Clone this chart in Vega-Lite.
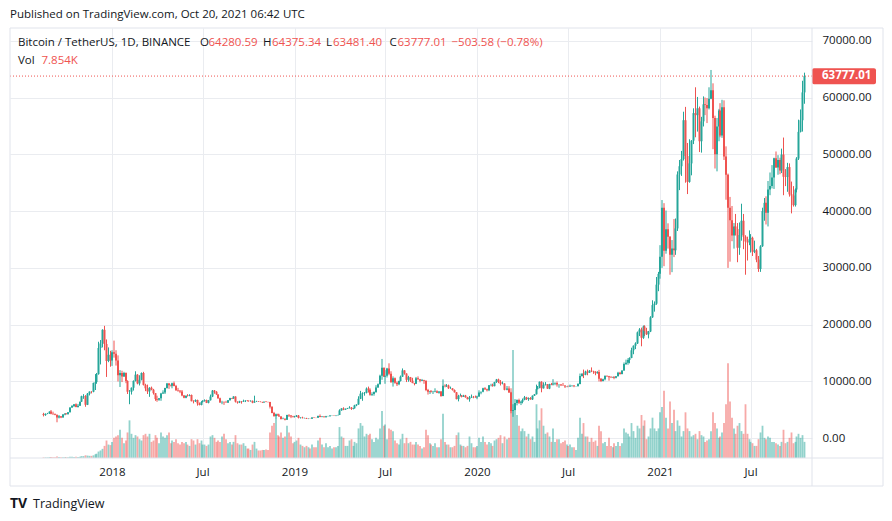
{
"$schema":"https://vega.github.io/schema/vega-lite/v6.json",
"width":802,"height":430,
"autosize":{"type":"none"},
"padding":{"left":10,"top":28,"right":80,"bottom":63},
"background":"#ffffff",
"title":{"text":"Published on TradingView.com, Oct 20, 2021 06:42 UTC","anchor":"start","frame":"group","offset":7,"font":"Open Sans","fontSize":11.5,"fontWeight":"normal","color":"#131722"},
"config":{"view":{"stroke":null},"font":"Open Sans","text":{"font":"Open Sans","fontSize":11.5},"axis":{"labelFont":"Open Sans","labelFontSize":11.5,"labelColor":"#131722","gridColor":"#eaecf0","gridWidth":1,"domain":false,"ticks":false}},
"datasets":{"btc":[
{"d":"2017-08-17","o":4261,"h":4485,"l":3850,"c":4086,"v":2},
{"d":"2017-08-21","o":4086,"h":4370,"l":3950,"c":4330,"v":2},
{"d":"2017-08-25","o":4330,"h":4470,"l":4250,"c":4340,"v":2},
{"d":"2017-08-29","o":4340,"h":4740,"l":4310,"c":4700,"v":3},
{"d":"2017-09-01","o":4700,"h":4980,"l":4220,"c":4300,"v":4},
{"d":"2017-09-05","o":4300,"h":4690,"l":4100,"c":4270,"v":3},
{"d":"2017-09-09","o":4270,"h":4380,"l":4050,"c":4150,"v":3},
{"d":"2017-09-13","o":4150,"h":4170,"l":2817,"c":3650,"v":6},
{"d":"2017-09-17","o":3650,"h":4100,"l":3500,"c":3880,"v":4},
{"d":"2017-09-21","o":3880,"h":3900,"l":3550,"c":3660,"v":3},
{"d":"2017-09-25","o":3660,"h":4280,"l":3650,"c":4180,"v":3},
{"d":"2017-09-29","o":4180,"h":4380,"l":4050,"c":4360,"v":3},
{"d":"2017-10-01","o":4360,"h":4450,"l":4200,"c":4220,"v":3},
{"d":"2017-10-05","o":4220,"h":4620,"l":4200,"c":4600,"v":3},
{"d":"2017-10-09","o":4600,"h":5440,"l":4550,"c":5400,"v":5},
{"d":"2017-10-13","o":5400,"h":5850,"l":5350,"c":5700,"v":5},
{"d":"2017-10-17","o":5700,"h":6000,"l":5500,"c":5980,"v":4},
{"d":"2017-10-21","o":5980,"h":6150,"l":5450,"c":5500,"v":5},
{"d":"2017-10-25","o":5500,"h":6050,"l":5400,"c":5750,"v":4},
{"d":"2017-10-29","o":5750,"h":6470,"l":5700,"c":6450,"v":5},
{"d":"2017-11-01","o":6450,"h":7500,"l":6400,"c":7400,"v":7},
{"d":"2017-11-05","o":7400,"h":7770,"l":6950,"c":7450,"v":7},
{"d":"2017-11-09","o":7450,"h":7600,"l":5550,"c":5900,"v":10},
{"d":"2017-11-13","o":5900,"h":7970,"l":5850,"c":7850,"v":9},
{"d":"2017-11-17","o":7850,"h":8250,"l":7550,"c":8220,"v":8},
{"d":"2017-11-21","o":8220,"h":8300,"l":7900,"c":8200,"v":8},
{"d":"2017-11-25","o":8200,"h":9800,"l":8100,"c":9750,"v":10},
{"d":"2017-11-29","o":9750,"h":11300,"l":8500,"c":9900,"v":14},
{"d":"2017-12-01","o":9900,"h":11500,"l":9600,"c":11300,"v":16},
{"d":"2017-12-05","o":11300,"h":17000,"l":11200,"c":15900,"v":24},
{"d":"2017-12-09","o":15900,"h":17300,"l":13000,"c":16700,"v":28},
{"d":"2017-12-13","o":16700,"h":19200,"l":16000,"c":19100,"v":34},
{"d":"2017-12-17","o":19100,"h":19798,"l":15500,"c":16600,"v":45},
{"d":"2017-12-21","o":16600,"h":17400,"l":10800,"c":13600,"v":65},
{"d":"2017-12-25","o":13600,"h":16000,"l":13400,"c":14700,"v":50},
{"d":"2017-12-29","o":14700,"h":15400,"l":12600,"c":13700,"v":48},
{"d":"2018-01-01","o":13700,"h":15500,"l":12750,"c":15150,"v":60},
{"d":"2018-01-05","o":15150,"h":17200,"l":14200,"c":14900,"v":75},
{"d":"2018-01-09","o":14900,"h":15500,"l":12800,"c":13700,"v":80},
{"d":"2018-01-13","o":13700,"h":14600,"l":10000,"c":11100,"v":85},
{"d":"2018-01-17","o":11100,"h":12000,"l":9035,"c":11500,"v":105},
{"d":"2018-01-21","o":11500,"h":11900,"l":9900,"c":10900,"v":75},
{"d":"2018-01-25","o":10900,"h":11700,"l":10800,"c":11500,"v":55},
{"d":"2018-01-29","o":11500,"h":11600,"l":9700,"c":10100,"v":65},
{"d":"2018-02-01","o":10100,"h":10200,"l":7800,"c":8200,"v":95},
{"d":"2018-02-05","o":8200,"h":8500,"l":6000,"c":8200,"v":140},
{"d":"2018-02-09","o":8200,"h":8950,"l":7700,"c":8900,"v":90},
{"d":"2018-02-13","o":8900,"h":10200,"l":8400,"c":10100,"v":75},
{"d":"2018-02-17","o":10100,"h":11800,"l":10000,"c":11200,"v":85},
{"d":"2018-02-21","o":11200,"h":11300,"l":9500,"c":9650,"v":80},
{"d":"2018-02-25","o":9650,"h":11100,"l":9300,"c":10300,"v":70},
{"d":"2018-03-01","o":10300,"h":11600,"l":10200,"c":11500,"v":65},
{"d":"2018-03-05","o":11500,"h":11700,"l":9300,"c":9400,"v":85},
{"d":"2018-03-09","o":9400,"h":9600,"l":8300,"c":8800,"v":90},
{"d":"2018-03-13","o":8800,"h":9450,"l":7800,"c":8250,"v":80},
{"d":"2018-03-17","o":8250,"h":9000,"l":7300,"c":8900,"v":90},
{"d":"2018-03-21","o":8900,"h":9100,"l":8450,"c":8550,"v":60},
{"d":"2018-03-25","o":8550,"h":8700,"l":7700,"c":7950,"v":65},
{"d":"2018-03-29","o":7950,"h":7970,"l":6600,"c":6920,"v":85},
{"d":"2018-04-01","o":6920,"h":7500,"l":6430,"c":6800,"v":75},
{"d":"2018-04-05","o":6800,"h":7100,"l":6600,"c":7030,"v":55},
{"d":"2018-04-09","o":7030,"h":8000,"l":6600,"c":7900,"v":95},
{"d":"2018-04-13","o":7900,"h":8450,"l":7800,"c":8050,"v":80},
{"d":"2018-04-17","o":8050,"h":8900,"l":7800,"c":8850,"v":75},
{"d":"2018-04-21","o":8850,"h":9750,"l":8750,"c":9650,"v":85},
{"d":"2018-04-25","o":9650,"h":9750,"l":8700,"c":9350,"v":95},
{"d":"2018-04-29","o":9350,"h":9500,"l":9100,"c":9250,"v":55},
{"d":"2018-05-01","o":9250,"h":9800,"l":8800,"c":9700,"v":65},
{"d":"2018-05-05","o":9700,"h":9990,"l":9150,"c":9200,"v":60},
{"d":"2018-05-09","o":9200,"h":9400,"l":8350,"c":8450,"v":70},
{"d":"2018-05-13","o":8450,"h":8880,"l":8200,"c":8350,"v":55},
{"d":"2018-05-17","o":8350,"h":8500,"l":7950,"c":8250,"v":50},
{"d":"2018-05-21","o":8250,"h":8500,"l":7400,"c":7520,"v":60},
{"d":"2018-05-25","o":7520,"h":7630,"l":7050,"c":7120,"v":55},
{"d":"2018-05-29","o":7120,"h":7530,"l":7050,"c":7500,"v":60},
{"d":"2018-06-01","o":7500,"h":7770,"l":7350,"c":7480,"v":50},
{"d":"2018-06-05","o":7480,"h":7750,"l":7400,"c":7630,"v":45},
{"d":"2018-06-09","o":7630,"h":7700,"l":6500,"c":6530,"v":70},
{"d":"2018-06-13","o":6530,"h":6700,"l":6150,"c":6500,"v":65},
{"d":"2018-06-17","o":6500,"h":6850,"l":6400,"c":6750,"v":50},
{"d":"2018-06-21","o":6750,"h":6800,"l":5750,"c":6150,"v":70},
{"d":"2018-06-25","o":6150,"h":6300,"l":5800,"c":5880,"v":55},
{"d":"2018-06-29","o":5880,"h":6530,"l":5800,"c":6400,"v":65},
{"d":"2018-07-01","o":6400,"h":6700,"l":6300,"c":6600,"v":50},
{"d":"2018-07-05","o":6600,"h":6850,"l":6450,"c":6750,"v":50},
{"d":"2018-07-09","o":6750,"h":6800,"l":6200,"c":6250,"v":45},
{"d":"2018-07-13","o":6250,"h":6750,"l":6150,"c":6700,"v":50},
{"d":"2018-07-17","o":6700,"h":7700,"l":6650,"c":7350,"v":80},
{"d":"2018-07-21","o":7350,"h":8500,"l":7250,"c":8400,"v":85},
{"d":"2018-07-25","o":8400,"h":8500,"l":7850,"c":8200,"v":75},
{"d":"2018-07-29","o":8200,"h":8300,"l":7650,"c":7730,"v":60},
{"d":"2018-08-01","o":7730,"h":7760,"l":6950,"c":7030,"v":65},
{"d":"2018-08-05","o":7030,"h":7160,"l":6250,"c":6280,"v":60},
{"d":"2018-08-09","o":6280,"h":6600,"l":6000,"c":6330,"v":80},
{"d":"2018-08-13","o":6330,"h":6500,"l":5880,"c":6300,"v":90},
{"d":"2018-08-17","o":6300,"h":6600,"l":6250,"c":6270,"v":70},
{"d":"2018-08-21","o":6270,"h":6720,"l":6260,"c":6700,"v":55},
{"d":"2018-08-25","o":6700,"h":7130,"l":6650,"c":7090,"v":60},
{"d":"2018-08-29","o":7090,"h":7100,"l":6900,"c":7000,"v":50},
{"d":"2018-09-01","o":7000,"h":7410,"l":6950,"c":7350,"v":60},
{"d":"2018-09-05","o":7350,"h":7400,"l":6300,"c":6450,"v":85},
{"d":"2018-09-09","o":6450,"h":6500,"l":6100,"c":6300,"v":55},
{"d":"2018-09-13","o":6300,"h":6600,"l":6200,"c":6500,"v":50},
{"d":"2018-09-17","o":6500,"h":6550,"l":6100,"c":6450,"v":50},
{"d":"2018-09-21","o":6450,"h":6800,"l":6420,"c":6580,"v":55},
{"d":"2018-09-25","o":6580,"h":6700,"l":6380,"c":6650,"v":45},
{"d":"2018-09-29","o":6650,"h":6700,"l":6500,"c":6600,"v":35},
{"d":"2018-10-01","o":6600,"h":6650,"l":6450,"c":6550,"v":35},
{"d":"2018-10-05","o":6550,"h":6680,"l":6450,"c":6600,"v":30},
{"d":"2018-10-09","o":6600,"h":6650,"l":6170,"c":6280,"v":50},
{"d":"2018-10-13","o":6280,"h":7500,"l":6250,"c":6450,"v":60},
{"d":"2018-10-17","o":6450,"h":6600,"l":6400,"c":6500,"v":35},
{"d":"2018-10-21","o":6500,"h":6550,"l":6420,"c":6450,"v":28},
{"d":"2018-10-25","o":6450,"h":6480,"l":6350,"c":6400,"v":28},
{"d":"2018-10-29","o":6400,"h":6420,"l":6250,"c":6300,"v":30},
{"d":"2018-11-01","o":6300,"h":6480,"l":6280,"c":6450,"v":30},
{"d":"2018-11-05","o":6450,"h":6550,"l":6350,"c":6400,"v":32},
{"d":"2018-11-09","o":6400,"h":6450,"l":6300,"c":6380,"v":30},
{"d":"2018-11-13","o":6380,"h":6420,"l":5250,"c":5550,"v":95},
{"d":"2018-11-17","o":5550,"h":5620,"l":4400,"c":4450,"v":120},
{"d":"2018-11-21","o":4450,"h":4650,"l":3850,"c":3900,"v":130},
{"d":"2018-11-25","o":3900,"h":4350,"l":3500,"c":4250,"v":150},
{"d":"2018-11-29","o":4250,"h":4350,"l":3950,"c":4000,"v":85},
{"d":"2018-12-01","o":4000,"h":4300,"l":3800,"c":3850,"v":80},
{"d":"2018-12-05","o":3850,"h":3900,"l":3300,"c":3400,"v":95},
{"d":"2018-12-09","o":3400,"h":3650,"l":3350,"c":3450,"v":75},
{"d":"2018-12-13","o":3450,"h":3500,"l":3150,"c":3250,"v":80},
{"d":"2018-12-17","o":3250,"h":4150,"l":3230,"c":4100,"v":120},
{"d":"2018-12-21","o":4100,"h":4250,"l":3750,"c":4000,"v":95},
{"d":"2018-12-25","o":4000,"h":4100,"l":3550,"c":3850,"v":80},
{"d":"2018-12-29","o":3850,"h":3960,"l":3650,"c":3750,"v":55},
{"d":"2019-01-01","o":3750,"h":3950,"l":3650,"c":3800,"v":60},
{"d":"2019-01-05","o":3800,"h":4100,"l":3750,"c":4000,"v":65},
{"d":"2019-01-09","o":4000,"h":4100,"l":3500,"c":3600,"v":75},
{"d":"2019-01-13","o":3600,"h":3700,"l":3480,"c":3650,"v":50},
{"d":"2019-01-17","o":3650,"h":3800,"l":3500,"c":3550,"v":45},
{"d":"2019-01-21","o":3550,"h":3620,"l":3500,"c":3580,"v":40},
{"d":"2019-01-25","o":3580,"h":3600,"l":3400,"c":3450,"v":45},
{"d":"2019-01-29","o":3450,"h":3500,"l":3380,"c":3450,"v":40},
{"d":"2019-02-01","o":3450,"h":3500,"l":3400,"c":3430,"v":35},
{"d":"2019-02-05","o":3430,"h":3700,"l":3400,"c":3650,"v":50},
{"d":"2019-02-09","o":3650,"h":3700,"l":3560,"c":3630,"v":40},
{"d":"2019-02-13","o":3630,"h":3650,"l":3550,"c":3610,"v":40},
{"d":"2019-02-17","o":3610,"h":4000,"l":3600,"c":3930,"v":65},
{"d":"2019-02-21","o":3930,"h":4200,"l":3700,"c":3730,"v":75},
{"d":"2019-02-25","o":3730,"h":3880,"l":3700,"c":3820,"v":50},
{"d":"2019-03-01","o":3820,"h":3880,"l":3700,"c":3720,"v":40},
{"d":"2019-03-05","o":3720,"h":3950,"l":3680,"c":3880,"v":55},
{"d":"2019-03-09","o":3880,"h":3950,"l":3830,"c":3880,"v":40},
{"d":"2019-03-13","o":3880,"h":4050,"l":3850,"c":4020,"v":45},
{"d":"2019-03-17","o":4020,"h":4050,"l":3950,"c":4030,"v":35},
{"d":"2019-03-21","o":4030,"h":4100,"l":3950,"c":4000,"v":40},
{"d":"2019-03-25","o":4000,"h":4050,"l":3900,"c":4040,"v":40},
{"d":"2019-03-29","o":4040,"h":4140,"l":4030,"c":4100,"v":45},
{"d":"2019-04-01","o":4100,"h":5100,"l":4090,"c":4900,"v":115},
{"d":"2019-04-05","o":4900,"h":5300,"l":4850,"c":5250,"v":80},
{"d":"2019-04-09","o":5250,"h":5460,"l":4950,"c":5050,"v":75},
{"d":"2019-04-13","o":5050,"h":5250,"l":5000,"c":5200,"v":45},
{"d":"2019-04-17","o":5200,"h":5350,"l":5150,"c":5300,"v":45},
{"d":"2019-04-21","o":5300,"h":5650,"l":5250,"c":5400,"v":65},
{"d":"2019-04-25","o":5400,"h":5500,"l":5000,"c":5150,"v":70},
{"d":"2019-04-29","o":5150,"h":5300,"l":5100,"c":5270,"v":45},
{"d":"2019-05-01","o":5270,"h":5900,"l":5250,"c":5800,"v":60},
{"d":"2019-05-05","o":5800,"h":6000,"l":5650,"c":5950,"v":55},
{"d":"2019-05-09","o":5950,"h":7400,"l":5900,"c":6950,"v":110},
{"d":"2019-05-13","o":6950,"h":8350,"l":6900,"c":7850,"v":130},
{"d":"2019-05-17","o":7850,"h":8100,"l":6600,"c":7950,"v":120},
{"d":"2019-05-21","o":7950,"h":8150,"l":7500,"c":8000,"v":80},
{"d":"2019-05-25","o":8000,"h":8950,"l":7900,"c":8750,"v":90},
{"d":"2019-05-29","o":8750,"h":9100,"l":8050,"c":8550,"v":85},
{"d":"2019-06-01","o":8550,"h":8800,"l":7500,"c":7650,"v":90},
{"d":"2019-06-05","o":7650,"h":8100,"l":7450,"c":7800,"v":70},
{"d":"2019-06-09","o":7800,"h":8250,"l":7500,"c":8150,"v":60},
{"d":"2019-06-13","o":8150,"h":9350,"l":8000,"c":8950,"v":75},
{"d":"2019-06-17","o":8950,"h":9650,"l":8900,"c":9520,"v":70},
{"d":"2019-06-21","o":9520,"h":11200,"l":9500,"c":11000,"v":110},
{"d":"2019-06-25","o":11000,"h":13970,"l":10300,"c":12400,"v":175},
{"d":"2019-06-29","o":12400,"h":12450,"l":10800,"c":10850,"v":120},
{"d":"2019-07-01","o":10850,"h":12000,"l":9600,"c":11000,"v":125},
{"d":"2019-07-05","o":11000,"h":12400,"l":10700,"c":12300,"v":70},
{"d":"2019-07-09","o":12300,"h":13200,"l":11100,"c":11350,"v":110},
{"d":"2019-07-13","o":11350,"h":11800,"l":9800,"c":9850,"v":105},
{"d":"2019-07-17","o":9850,"h":10900,"l":9100,"c":10550,"v":100},
{"d":"2019-07-21","o":10550,"h":10700,"l":9600,"c":9800,"v":65},
{"d":"2019-07-25","o":9800,"h":10000,"l":9200,"c":9500,"v":55},
{"d":"2019-07-29","o":9500,"h":10150,"l":9350,"c":10080,"v":50},
{"d":"2019-08-01","o":10080,"h":11050,"l":10000,"c":10850,"v":70},
{"d":"2019-08-05","o":10850,"h":12300,"l":10800,"c":11950,"v":90},
{"d":"2019-08-09","o":11950,"h":12000,"l":11200,"c":11400,"v":55},
{"d":"2019-08-13","o":11400,"h":11450,"l":9900,"c":10300,"v":75},
{"d":"2019-08-17","o":10300,"h":11000,"l":9950,"c":10750,"v":55},
{"d":"2019-08-21","o":10750,"h":10800,"l":9900,"c":10150,"v":60},
{"d":"2019-08-25","o":10150,"h":10650,"l":9700,"c":9720,"v":50},
{"d":"2019-08-29","o":9720,"h":9750,"l":9320,"c":9600,"v":50},
{"d":"2019-09-01","o":9600,"h":10800,"l":9550,"c":10580,"v":60},
{"d":"2019-09-05","o":10580,"h":10900,"l":10300,"c":10400,"v":50},
{"d":"2019-09-09","o":10400,"h":10450,"l":9850,"c":10150,"v":45},
{"d":"2019-09-13","o":10150,"h":10450,"l":10100,"c":10250,"v":35},
{"d":"2019-09-17","o":10250,"h":10300,"l":9600,"c":10150,"v":40},
{"d":"2019-09-21","o":10150,"h":10180,"l":8300,"c":8500,"v":105},
{"d":"2019-09-25","o":8500,"h":8700,"l":7700,"c":8200,"v":85},
{"d":"2019-09-29","o":8200,"h":8350,"l":7800,"c":8300,"v":55},
{"d":"2019-10-01","o":8300,"h":8500,"l":8050,"c":8150,"v":50},
{"d":"2019-10-05","o":8150,"h":8350,"l":7800,"c":8200,"v":45},
{"d":"2019-10-09","o":8200,"h":8800,"l":8100,"c":8300,"v":55},
{"d":"2019-10-13","o":8300,"h":8450,"l":7950,"c":8000,"v":40},
{"d":"2019-10-17","o":8000,"h":8300,"l":7850,"c":8230,"v":40},
{"d":"2019-10-21","o":8230,"h":8330,"l":7300,"c":7450,"v":70},
{"d":"2019-10-25","o":7450,"h":10370,"l":7400,"c":9250,"v":165},
{"d":"2019-10-29","o":9250,"h":9500,"l":8970,"c":9150,"v":60},
{"d":"2019-11-01","o":9150,"h":9550,"l":9050,"c":9300,"v":50},
{"d":"2019-11-05","o":9300,"h":9450,"l":8700,"c":8800,"v":50},
{"d":"2019-11-09","o":8800,"h":9100,"l":8700,"c":8800,"v":40},
{"d":"2019-11-13","o":8800,"h":8830,"l":8400,"c":8500,"v":40},
{"d":"2019-11-17","o":8500,"h":8600,"l":8050,"c":8100,"v":45},
{"d":"2019-11-21","o":8100,"h":8150,"l":6850,"c":6900,"v":85},
{"d":"2019-11-25","o":6900,"h":7650,"l":6500,"c":7450,"v":95},
{"d":"2019-11-29","o":7450,"h":7870,"l":7400,"c":7550,"v":50},
{"d":"2019-12-01","o":7550,"h":7600,"l":7200,"c":7300,"v":45},
{"d":"2019-12-05","o":7300,"h":7650,"l":7270,"c":7520,"v":45},
{"d":"2019-12-09","o":7520,"h":7640,"l":7150,"c":7220,"v":40},
{"d":"2019-12-13","o":7220,"h":7300,"l":6850,"c":6880,"v":45},
{"d":"2019-12-17","o":6880,"h":7450,"l":6450,"c":7150,"v":80},
{"d":"2019-12-21","o":7150,"h":7700,"l":7100,"c":7320,"v":55},
{"d":"2019-12-25","o":7320,"h":7450,"l":7050,"c":7300,"v":40},
{"d":"2019-12-29","o":7300,"h":7520,"l":7150,"c":7200,"v":40},
{"d":"2020-01-01","o":7200,"h":7500,"l":6880,"c":7350,"v":45},
{"d":"2020-01-05","o":7350,"h":8450,"l":7300,"c":8050,"v":75},
{"d":"2020-01-09","o":8050,"h":8200,"l":7750,"c":8180,"v":60},
{"d":"2020-01-13","o":8180,"h":8900,"l":8100,"c":8800,"v":80},
{"d":"2020-01-17","o":8800,"h":9000,"l":8500,"c":8650,"v":60},
{"d":"2020-01-21","o":8650,"h":8750,"l":8250,"c":8450,"v":50},
{"d":"2020-01-25","o":8450,"h":9380,"l":8300,"c":9350,"v":60},
{"d":"2020-01-29","o":9350,"h":9600,"l":9150,"c":9350,"v":55},
{"d":"2020-02-01","o":9350,"h":9620,"l":9100,"c":9180,"v":45},
{"d":"2020-02-05","o":9180,"h":9950,"l":9150,"c":9900,"v":65},
{"d":"2020-02-09","o":9900,"h":10450,"l":9750,"c":10350,"v":70},
{"d":"2020-02-13","o":10350,"h":10500,"l":9700,"c":9900,"v":75},
{"d":"2020-02-17","o":9900,"h":10250,"l":9300,"c":9600,"v":85},
{"d":"2020-02-21","o":9600,"h":10000,"l":9500,"c":9650,"v":55},
{"d":"2020-02-25","o":9650,"h":9700,"l":8450,"c":8530,"v":80},
{"d":"2020-03-01","o":8530,"h":9200,"l":8450,"c":8770,"v":70},
{"d":"2020-03-05","o":8770,"h":9170,"l":8000,"c":8050,"v":75},
{"d":"2020-03-09","o":8050,"h":8180,"l":4400,"c":4800,"v":260},
{"d":"2020-03-13","o":4800,"h":6000,"l":3782,"c":5000,"v":402},
{"d":"2020-03-17","o":5000,"h":6900,"l":4950,"c":6200,"v":200},
{"d":"2020-03-21","o":6200,"h":6850,"l":5800,"c":6750,"v":160},
{"d":"2020-03-25","o":6750,"h":6980,"l":6050,"c":6250,"v":120},
{"d":"2020-03-29","o":6250,"h":6600,"l":5850,"c":6420,"v":100},
{"d":"2020-04-01","o":6420,"h":7000,"l":6150,"c":6750,"v":110},
{"d":"2020-04-05","o":6750,"h":7450,"l":6700,"c":7200,"v":100},
{"d":"2020-04-09","o":7200,"h":7300,"l":6750,"c":6900,"v":80},
{"d":"2020-04-13","o":6900,"h":7200,"l":6600,"c":7100,"v":90},
{"d":"2020-04-17","o":7100,"h":7250,"l":6800,"c":6850,"v":70},
{"d":"2020-04-21","o":6850,"h":7550,"l":6750,"c":7500,"v":80},
{"d":"2020-04-25","o":7500,"h":7800,"l":7450,"c":7750,"v":60},
{"d":"2020-04-29","o":7750,"h":9450,"l":7700,"c":8650,"v":200},
{"d":"2020-05-01","o":8650,"h":9200,"l":8600,"c":8900,"v":110},
{"d":"2020-05-05","o":8900,"h":10000,"l":8800,"c":9950,"v":140},
{"d":"2020-05-09","o":9950,"h":10050,"l":8100,"c":8800,"v":185},
{"d":"2020-05-13","o":8800,"h":9850,"l":8750,"c":9400,"v":120},
{"d":"2020-05-17","o":9400,"h":9900,"l":9300,"c":9500,"v":90},
{"d":"2020-05-21","o":9500,"h":9550,"l":8700,"c":8750,"v":95},
{"d":"2020-05-25","o":8750,"h":9600,"l":8650,"c":9550,"v":80},
{"d":"2020-05-29","o":9550,"h":9750,"l":9350,"c":9450,"v":60},
{"d":"2020-06-01","o":9450,"h":10400,"l":9300,"c":9650,"v":110},
{"d":"2020-06-05","o":9650,"h":9850,"l":9350,"c":9750,"v":60},
{"d":"2020-06-09","o":9750,"h":10000,"l":9100,"c":9450,"v":70},
{"d":"2020-06-13","o":9450,"h":9550,"l":8900,"c":9450,"v":70},
{"d":"2020-06-17","o":9450,"h":9550,"l":9200,"c":9350,"v":55},
{"d":"2020-06-21","o":9350,"h":9750,"l":9250,"c":9300,"v":60},
{"d":"2020-06-25","o":9300,"h":9320,"l":8850,"c":9100,"v":65},
{"d":"2020-06-29","o":9100,"h":9200,"l":9000,"c":9140,"v":50},
{"d":"2020-07-01","o":9140,"h":9300,"l":9000,"c":9100,"v":45},
{"d":"2020-07-05","o":9100,"h":9450,"l":9050,"c":9250,"v":50},
{"d":"2020-07-09","o":9250,"h":9330,"l":9100,"c":9300,"v":40},
{"d":"2020-07-13","o":9300,"h":9350,"l":9000,"c":9150,"v":40},
{"d":"2020-07-17","o":9150,"h":9200,"l":9100,"c":9170,"v":30},
{"d":"2020-07-21","o":9170,"h":9700,"l":9150,"c":9550,"v":75},
{"d":"2020-07-25","o":9550,"h":11400,"l":9500,"c":10950,"v":150},
{"d":"2020-07-29","o":10950,"h":11450,"l":10850,"c":11350,"v":90},
{"d":"2020-08-01","o":11350,"h":12100,"l":10600,"c":11200,"v":130},
{"d":"2020-08-05","o":11200,"h":11900,"l":11100,"c":11750,"v":80},
{"d":"2020-08-09","o":11750,"h":12100,"l":11100,"c":11550,"v":80},
{"d":"2020-08-13","o":11550,"h":12000,"l":11500,"c":11900,"v":60},
{"d":"2020-08-17","o":11900,"h":12480,"l":11650,"c":11850,"v":75},
{"d":"2020-08-21","o":11850,"h":11900,"l":11350,"c":11750,"v":60},
{"d":"2020-08-25","o":11750,"h":11800,"l":11100,"c":11450,"v":65},
{"d":"2020-08-29","o":11450,"h":11800,"l":11400,"c":11650,"v":45},
{"d":"2020-09-01","o":11650,"h":12050,"l":10000,"c":10500,"v":120},
{"d":"2020-09-05","o":10500,"h":10600,"l":9900,"c":10100,"v":100},
{"d":"2020-09-09","o":10100,"h":10500,"l":10000,"c":10400,"v":55},
{"d":"2020-09-13","o":10400,"h":11100,"l":10200,"c":10950,"v":60},
{"d":"2020-09-17","o":10950,"h":11100,"l":10800,"c":10920,"v":45},
{"d":"2020-09-21","o":10920,"h":10990,"l":10150,"c":10750,"v":75},
{"d":"2020-09-25","o":10750,"h":10950,"l":10600,"c":10700,"v":45},
{"d":"2020-09-29","o":10700,"h":10850,"l":10650,"c":10780,"v":40},
{"d":"2020-10-01","o":10780,"h":10950,"l":10400,"c":10680,"v":55},
{"d":"2020-10-05","o":10680,"h":10950,"l":10550,"c":10920,"v":45},
{"d":"2020-10-09","o":10920,"h":11700,"l":10900,"c":11550,"v":60},
{"d":"2020-10-13","o":11550,"h":11700,"l":11200,"c":11320,"v":45},
{"d":"2020-10-17","o":11320,"h":11950,"l":11250,"c":11920,"v":55},
{"d":"2020-10-21","o":11920,"h":13350,"l":11900,"c":13100,"v":110},
{"d":"2020-10-25","o":13100,"h":13850,"l":12900,"c":13300,"v":95},
{"d":"2020-10-29","o":13300,"h":14100,"l":12950,"c":13800,"v":90},
{"d":"2020-11-01","o":13800,"h":14250,"l":13200,"c":14150,"v":80},
{"d":"2020-11-05","o":14150,"h":15950,"l":14100,"c":15500,"v":130},
{"d":"2020-11-09","o":15500,"h":16350,"l":14800,"c":16300,"v":100},
{"d":"2020-11-13","o":16300,"h":16900,"l":15700,"c":16700,"v":75},
{"d":"2020-11-17","o":16700,"h":18800,"l":16600,"c":18650,"v":120},
{"d":"2020-11-21","o":18650,"h":19400,"l":18000,"c":19150,"v":110},
{"d":"2020-11-25","o":19150,"h":19480,"l":16200,"c":17700,"v":160},
{"d":"2020-11-29","o":17700,"h":19860,"l":17500,"c":19700,"v":120},
{"d":"2020-12-01","o":19700,"h":19900,"l":18000,"c":18900,"v":140},
{"d":"2020-12-05","o":18900,"h":19450,"l":18200,"c":18300,"v":70},
{"d":"2020-12-09","o":18300,"h":18900,"l":17600,"c":18800,"v":80},
{"d":"2020-12-13","o":18800,"h":21500,"l":18700,"c":21300,"v":110},
{"d":"2020-12-17","o":21300,"h":24300,"l":21200,"c":23450,"v":150},
{"d":"2020-12-21","o":23450,"h":24100,"l":22300,"c":23700,"v":110},
{"d":"2020-12-25","o":23700,"h":28400,"l":23500,"c":27050,"v":100},
{"d":"2020-12-29","o":27050,"h":29300,"l":25900,"c":28950,"v":110},
{"d":"2021-01-01","o":28950,"h":34000,"l":28100,"c":31950,"v":170},
{"d":"2021-01-05","o":31950,"h":41950,"l":30000,"c":40600,"v":190},
{"d":"2021-01-09","o":40600,"h":41400,"l":30300,"c":33000,"v":250},
{"d":"2021-01-13","o":33000,"h":40100,"l":32500,"c":36800,"v":150},
{"d":"2021-01-17","o":36800,"h":37850,"l":33400,"c":35500,"v":110},
{"d":"2021-01-21","o":35500,"h":35600,"l":28800,"c":32300,"v":210},
{"d":"2021-01-25","o":32300,"h":34900,"l":29250,"c":33400,"v":130},
{"d":"2021-01-29","o":33400,"h":38600,"l":31900,"c":33100,"v":180},
{"d":"2021-02-01","o":33100,"h":38700,"l":32300,"c":36950,"v":100},
{"d":"2021-02-05","o":36950,"h":47000,"l":36500,"c":46450,"v":140},
{"d":"2021-02-09","o":46450,"h":49000,"l":43700,"c":47900,"v":120},
{"d":"2021-02-13","o":47900,"h":50600,"l":46200,"c":49150,"v":80},
{"d":"2021-02-17","o":49150,"h":57500,"l":48900,"c":56000,"v":100},
{"d":"2021-02-21","o":56000,"h":58350,"l":45000,"c":49700,"v":170},
{"d":"2021-02-25","o":49700,"h":52000,"l":43000,"c":45150,"v":110},
{"d":"2021-03-01","o":45150,"h":52650,"l":45000,"c":48400,"v":100},
{"d":"2021-03-05","o":48400,"h":52500,"l":46300,"c":52400,"v":80},
{"d":"2021-03-09","o":52400,"h":58100,"l":51800,"c":57250,"v":85},
{"d":"2021-03-13","o":57250,"h":61800,"l":53000,"c":56900,"v":90},
{"d":"2021-03-17","o":56900,"h":60100,"l":54000,"c":58100,"v":70},
{"d":"2021-03-21","o":58100,"h":58400,"l":50400,"c":52300,"v":100},
{"d":"2021-03-25","o":52300,"h":56600,"l":50300,"c":55800,"v":85},
{"d":"2021-03-29","o":55800,"h":60200,"l":54900,"c":58800,"v":80},
{"d":"2021-04-01","o":58800,"h":60000,"l":56900,"c":58700,"v":60},
{"d":"2021-04-05","o":58700,"h":59900,"l":55500,"c":58100,"v":65},
{"d":"2021-04-09","o":58100,"h":61800,"l":57900,"c":59800,"v":70},
{"d":"2021-04-13","o":59800,"h":64850,"l":59700,"c":61300,"v":100},
{"d":"2021-04-17","o":61300,"h":62500,"l":50900,"c":56400,"v":170},
{"d":"2021-04-21","o":56400,"h":56800,"l":47500,"c":50000,"v":130},
{"d":"2021-04-25","o":50000,"h":56400,"l":47000,"c":54900,"v":110},
{"d":"2021-04-29","o":54900,"h":58000,"l":52300,"c":57700,"v":75},
{"d":"2021-05-01","o":57700,"h":59000,"l":53000,"c":53300,"v":80},
{"d":"2021-05-05","o":53300,"h":59600,"l":52900,"c":58300,"v":95},
{"d":"2021-05-09","o":58300,"h":59500,"l":49000,"c":49600,"v":130},
{"d":"2021-05-13","o":49600,"h":51400,"l":42000,"c":46400,"v":200},
{"d":"2021-05-17","o":46400,"h":46600,"l":30000,"c":40600,"v":353},
{"d":"2021-05-21","o":40600,"h":42500,"l":31100,"c":38400,"v":210},
{"d":"2021-05-25","o":38400,"h":40900,"l":34700,"c":35700,"v":150},
{"d":"2021-05-29","o":35700,"h":37900,"l":33400,"c":37300,"v":110},
{"d":"2021-06-01","o":37300,"h":39500,"l":35700,"c":36850,"v":90},
{"d":"2021-06-05","o":36850,"h":37900,"l":31000,"c":33550,"v":120},
{"d":"2021-06-09","o":33550,"h":38000,"l":32300,"c":35800,"v":130},
{"d":"2021-06-13","o":35800,"h":41300,"l":34800,"c":38300,"v":100},
{"d":"2021-06-17","o":38300,"h":39500,"l":33300,"c":35500,"v":90},
{"d":"2021-06-21","o":35500,"h":35750,"l":28800,"c":34650,"v":200},
{"d":"2021-06-25","o":34650,"h":35500,"l":31300,"c":34500,"v":90},
{"d":"2021-06-29","o":34500,"h":36600,"l":34000,"c":35050,"v":70},
{"d":"2021-07-01","o":35050,"h":35950,"l":32700,"c":35300,"v":60},
{"d":"2021-07-05","o":35300,"h":35500,"l":32100,"c":32850,"v":55},
{"d":"2021-07-09","o":32850,"h":34800,"l":32600,"c":33100,"v":45},
{"d":"2021-07-13","o":33100,"h":33350,"l":31000,"c":31450,"v":45},
{"d":"2021-07-17","o":31450,"h":32100,"l":29300,"c":29800,"v":70},
{"d":"2021-07-21","o":29800,"h":34000,"l":29300,"c":33800,"v":95},
{"d":"2021-07-25","o":33800,"h":40600,"l":33700,"c":40000,"v":120},
{"d":"2021-07-29","o":40000,"h":42300,"l":38300,"c":41450,"v":75},
{"d":"2021-08-01","o":41450,"h":42600,"l":37650,"c":39700,"v":70},
{"d":"2021-08-05","o":39700,"h":45300,"l":37300,"c":43800,"v":80},
{"d":"2021-08-09","o":43800,"h":46800,"l":42800,"c":44400,"v":75},
{"d":"2021-08-13","o":44400,"h":48100,"l":44000,"c":45900,"v":60},
{"d":"2021-08-17","o":45900,"h":49400,"l":43900,"c":49300,"v":60},
{"d":"2021-08-21","o":49300,"h":50500,"l":47600,"c":47700,"v":55},
{"d":"2021-08-25","o":47700,"h":49850,"l":46400,"c":49000,"v":50},
{"d":"2021-08-29","o":49000,"h":49400,"l":46500,"c":47150,"v":45},
{"d":"2021-09-01","o":47150,"h":51000,"l":46700,"c":49950,"v":60},
{"d":"2021-09-05","o":49950,"h":52950,"l":42800,"c":46050,"v":105},
{"d":"2021-09-09","o":46050,"h":47400,"l":44400,"c":46000,"v":55},
{"d":"2021-09-13","o":46000,"h":48500,"l":43400,"c":47750,"v":60},
{"d":"2021-09-17","o":47750,"h":48400,"l":42550,"c":42950,"v":75},
{"d":"2021-09-21","o":42950,"h":45200,"l":39600,"c":42750,"v":95},
{"d":"2021-09-25","o":42750,"h":44400,"l":40800,"c":41050,"v":55},
{"d":"2021-09-29","o":41050,"h":44000,"l":40800,"c":43800,"v":60},
{"d":"2021-10-01","o":43800,"h":49500,"l":43300,"c":49250,"v":80},
{"d":"2021-10-05","o":49250,"h":56100,"l":49000,"c":53950,"v":90},
{"d":"2021-10-09","o":53950,"h":57900,"l":53850,"c":56000,"v":75},
{"d":"2021-10-13","o":56000,"h":62950,"l":54000,"c":60900,"v":85},
{"d":"2021-10-17","o":60900,"h":64375,"l":58900,"c":63777,"v":60}
]},
"layer":[
{"data":{"name":"btc"},"mark":{"type":"bar","size":1.8,"opacity":0.5},
 "encoding":{
  "x":{"field":"d","type":"temporal","scale":{"type":"utc","padding":0,"domain":[{"year":2017,"month":6,"date":11,"utc":true},{"year":2021,"month":11,"date":1,"utc":true}]},
   "axis":{"title":null,"grid":true,"labelPadding":8,"labelFlush":false,"labelOverlap":false,
    "values":[{"year":2018,"month":1,"date":1,"utc":true},{"year":2018,"month":7,"date":1,"utc":true},{"year":2019,"month":1,"date":1,"utc":true},{"year":2019,"month":7,"date":1,"utc":true},{"year":2020,"month":1,"date":1,"utc":true},{"year":2020,"month":7,"date":1,"utc":true},{"year":2021,"month":1,"date":1,"utc":true},{"year":2021,"month":7,"date":1,"utc":true}],
    "labelExpr":"utcmonth(datum.value) == 0 ? utcFormat(datum.value, '%Y') : 'Jul'"}},
  "y":{"field":"v","type":"quantitative","scale":{"domain":[0,1600],"nice":false,"zero":true},"axis":null},
  "color":{"condition":{"test":"datum.c >= datum.o","value":"#26a69a"},"value":"#ef5350"}
 }},
{"data":{"name":"btc"},"mark":{"type":"rule","strokeWidth":1},
 "encoding":{
  "x":{"field":"d","type":"temporal"},
  "y":{"field":"l","type":"quantitative","scale":{"domain":[-3470,72240],"nice":false,"zero":false},
   "axis":{"orient":"right","title":null,"grid":true,"values":[0,10000,20000,30000,40000,50000,60000,70000],"format":".2f","labelPadding":10,"labelAlign":"left"}},
  "y2":{"field":"h"},
  "color":{"condition":{"test":"datum.c >= datum.o","value":"#26a69a"},"value":"#ef5350"}
 }},
{"data":{"name":"btc"},"mark":{"type":"bar","size":2},
 "encoding":{
  "x":{"field":"d","type":"temporal"},
  "y":{"field":"o","type":"quantitative","scale":{"domain":[-3470,72240],"nice":false,"zero":false},"axis":null},
  "y2":{"field":"c"},
  "color":{"condition":{"test":"datum.c >= datum.o","value":"#26a69a"},"value":"#ef5350"}
 }},
{"data":{"values":[{}]},"mark":{"type":"rule","color":"#ef5350","strokeDash":[1,2],"strokeWidth":1},
 "encoding":{"x":{"datum":{"year":2017,"month":6,"date":11,"utc":true},"type":"temporal"},"x2":{"datum":{"year":2021,"month":11,"date":1,"utc":true}},"y":{"datum":63777.01,"type":"quantitative","scale":{"domain":[-3470,72240],"nice":false,"zero":false},"axis":null}}},
{"data":{"values":[{}]},"mark":{"type":"rect","color":"#ef5350","cornerRadius":2},
 "encoding":{"x":{"datum":{"year":2021,"month":11,"date":1,"utc":true},"type":"temporal"},"x2":{"datum":{"year":2022,"month":3,"date":9,"utc":true}},"y":{"datum":65144,"type":"quantitative","scale":{"domain":[-3470,72240],"nice":false,"zero":false},"axis":null},"y2":{"datum":62327}}},
{"data":{"values":[{}]},"mark":{"type":"text","text":"63777.01","color":"#ffffff","fontWeight":"bold","align":"left","baseline":"middle"},
 "encoding":{"x":{"datum":{"year":2021,"month":11,"date":21,"utc":true},"type":"temporal"},"y":{"datum":63777.01,"type":"quantitative","scale":{"domain":[-3470,72240],"nice":false,"zero":false},"axis":null}}},
{"data":{"values":[{}]},"mark":{"type":"text","text":"Bitcoin / TetherUS, 1D, BINANCE","color":"#131722","align":"left","baseline":"alphabetic"},
 "encoding":{"x":{"datum":{"year":2017,"month":6,"date":27,"utc":true},"type":"temporal"},"y":{"datum":69123,"type":"quantitative","scale":{"domain":[-3470,72240],"nice":false,"zero":false},"axis":null}}},
{"data":{"values":[{}]},"mark":{"type":"text","text":"O","color":"#131722","align":"left","baseline":"alphabetic"},
 "encoding":{"x":{"datum":{"year":2018,"month":6,"date":26,"utc":true},"type":"temporal"},"y":{"datum":69123,"type":"quantitative","scale":{"domain":[-3470,72240],"nice":false,"zero":false},"axis":null}}},
{"data":{"values":[{}]},"mark":{"type":"text","text":"64280.59","color":"#ef5350","align":"left","baseline":"alphabetic"},
 "encoding":{"x":{"datum":{"year":2018,"month":7,"date":13,"utc":true},"type":"temporal"},"y":{"datum":69123,"type":"quantitative","scale":{"domain":[-3470,72240],"nice":false,"zero":false},"axis":null}}},
{"data":{"values":[{}]},"mark":{"type":"text","text":"H","color":"#131722","align":"left","baseline":"alphabetic"},
 "encoding":{"x":{"datum":{"year":2018,"month":10,"date":30,"utc":true},"type":"temporal"},"y":{"datum":69123,"type":"quantitative","scale":{"domain":[-3470,72240],"nice":false,"zero":false},"axis":null}}},
{"data":{"values":[{}]},"mark":{"type":"text","text":"64375.34","color":"#ef5350","align":"left","baseline":"alphabetic"},
 "encoding":{"x":{"datum":{"year":2018,"month":11,"date":17,"utc":true},"type":"temporal"},"y":{"datum":69123,"type":"quantitative","scale":{"domain":[-3470,72240],"nice":false,"zero":false},"axis":null}}},
{"data":{"values":[{}]},"mark":{"type":"text","text":"L","color":"#131722","align":"left","baseline":"alphabetic"},
 "encoding":{"x":{"datum":{"year":2019,"month":3,"date":5,"utc":true},"type":"temporal"},"y":{"datum":69123,"type":"quantitative","scale":{"domain":[-3470,72240],"nice":false,"zero":false},"axis":null}}},
{"data":{"values":[{}]},"mark":{"type":"text","text":"63481.40","color":"#ef5350","align":"left","baseline":"alphabetic"},
 "encoding":{"x":{"datum":{"year":2019,"month":3,"date":19,"utc":true},"type":"temporal"},"y":{"datum":69123,"type":"quantitative","scale":{"domain":[-3470,72240],"nice":false,"zero":false},"axis":null}}},
{"data":{"values":[{}]},"mark":{"type":"text","text":"C","color":"#131722","align":"left","baseline":"alphabetic"},
 "encoding":{"x":{"datum":{"year":2019,"month":7,"date":10,"utc":true},"type":"temporal"},"y":{"datum":69123,"type":"quantitative","scale":{"domain":[-3470,72240],"nice":false,"zero":false},"axis":null}}},
{"data":{"values":[{}]},"mark":{"type":"text","text":"63777.01","color":"#ef5350","align":"left","baseline":"alphabetic"},
 "encoding":{"x":{"datum":{"year":2019,"month":7,"date":26,"utc":true},"type":"temporal"},"y":{"datum":69123,"type":"quantitative","scale":{"domain":[-3470,72240],"nice":false,"zero":false},"axis":null}}},
{"data":{"values":[{}]},"mark":{"type":"text","text":"−503.58 (−0.78%)","color":"#ef5350","align":"left","baseline":"alphabetic"},
 "encoding":{"x":{"datum":{"year":2019,"month":11,"date":11,"utc":true},"type":"temporal"},"y":{"datum":69123,"type":"quantitative","scale":{"domain":[-3470,72240],"nice":false,"zero":false},"axis":null}}},
{"data":{"values":[{}]},"mark":{"type":"text","text":"Vol","color":"#131722","align":"left","baseline":"alphabetic"},
 "encoding":{"x":{"datum":{"year":2017,"month":6,"date":27,"utc":true},"type":"temporal"},"y":{"datum":65901,"type":"quantitative","scale":{"domain":[-3470,72240],"nice":false,"zero":false},"axis":null}}},
{"data":{"values":[{}]},"mark":{"type":"text","text":"7.854K","color":"#ef5350","align":"left","baseline":"alphabetic"},
 "encoding":{"x":{"datum":{"year":2017,"month":8,"date":13,"utc":true},"type":"temporal"},"y":{"datum":65901,"type":"quantitative","scale":{"domain":[-3470,72240],"nice":false,"zero":false},"axis":null}}},
{"data":{"values":[{}]},"mark":{"type":"text","text":"TV","color":"#131722","fontSize":14,"fontWeight":"bold","align":"left","baseline":"alphabetic"},
 "encoding":{"x":{"datum":{"year":2017,"month":6,"date":11,"utc":true},"type":"temporal"},"y":{"datum":-12327,"type":"quantitative","scale":{"domain":[-3470,72240],"nice":false,"zero":false},"axis":null}}},
{"data":{"values":[{}]},"mark":{"type":"text","text":"TradingView","color":"#131722","fontSize":12.5,"align":"left","baseline":"alphabetic"},
 "encoding":{"x":{"datum":{"year":2017,"month":7,"date":27,"utc":true},"type":"temporal"},"y":{"datum":-12327,"type":"quantitative","scale":{"domain":[-3470,72240],"nice":false,"zero":false},"axis":null}}},
{"data":{"values":[{}]},"mark":{"type":"rule","color":"#e0e3eb","strokeWidth":1},
 "encoding":{"x":{"datum":{"year":2017,"month":6,"date":11,"utc":true},"type":"temporal"},"x2":{"datum":{"year":2022,"month":3,"date":23,"utc":true}},"y":{"datum":72240,"type":"quantitative","scale":{"domain":[-3470,72240],"nice":false,"zero":false},"axis":null}}},
{"data":{"values":[{}]},"mark":{"type":"rule","color":"#e0e3eb","strokeWidth":1},
 "encoding":{"x":{"datum":{"year":2017,"month":6,"date":11,"utc":true},"type":"temporal"},"x2":{"datum":{"year":2022,"month":3,"date":23,"utc":true}},"y":{"datum":-3470,"type":"quantitative","scale":{"domain":[-3470,72240],"nice":false,"zero":false},"axis":null}}},
{"data":{"values":[{}]},"mark":{"type":"rule","color":"#e0e3eb","strokeWidth":1},
 "encoding":{"x":{"datum":{"year":2017,"month":6,"date":11,"utc":true},"type":"temporal"},"x2":{"datum":{"year":2022,"month":3,"date":23,"utc":true}},"y":{"datum":-8400,"type":"quantitative","scale":{"domain":[-3470,72240],"nice":false,"zero":false},"axis":null}}},
{"data":{"values":[{}]},"mark":{"type":"rule","color":"#e0e3eb","strokeWidth":1},
 "encoding":{"x":{"datum":{"year":2017,"month":6,"date":11,"utc":true},"type":"temporal"},"y":{"datum":72240,"type":"quantitative","scale":{"domain":[-3470,72240],"nice":false,"zero":false},"axis":null},"y2":{"datum":-8400}}},
{"data":{"values":[{}]},"mark":{"type":"rule","color":"#e0e3eb","strokeWidth":1},
 "encoding":{"x":{"datum":{"year":2021,"month":11,"date":1,"utc":true},"type":"temporal"},"y":{"datum":72240,"type":"quantitative","scale":{"domain":[-3470,72240],"nice":false,"zero":false},"axis":null},"y2":{"datum":-8400}}},
{"data":{"values":[{}]},"mark":{"type":"rule","color":"#e0e3eb","strokeWidth":1},
 "encoding":{"x":{"datum":{"year":2022,"month":3,"date":23,"utc":true},"type":"temporal"},"y":{"datum":72240,"type":"quantitative","scale":{"domain":[-3470,72240],"nice":false,"zero":false},"axis":null},"y2":{"datum":-8400}}}
],
"resolve":{"scale":{"y":"independent"}}
}
